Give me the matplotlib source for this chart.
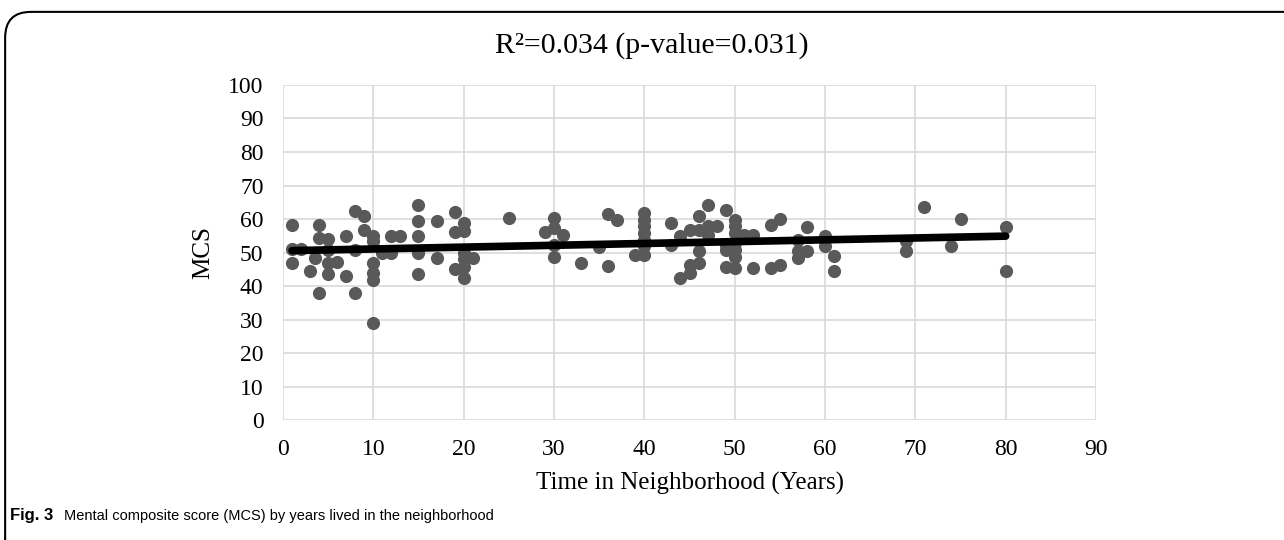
import numpy as np
import matplotlib
matplotlib.use("Agg")
import matplotlib.pyplot as plt
from matplotlib.patches import FancyBboxPatch

# years lived in the neighbourhood and MCS
years = [1, 1, 1, 2, 3, 3.5, 4, 4, 4, 5, 5, 5, 5, 6, 7, 7, 8, 8, 8, 9, 9,
         10, 10, 10, 10, 10, 10, 11, 12, 12, 13, 15, 15, 15, 15, 15, 17, 17,
         19, 19, 19, 20, 20, 20, 20, 20, 20, 21, 25, 29, 30, 30, 30, 30, 31,
         33, 35, 36, 36, 37, 39, 40, 40, 40, 40, 40, 40, 40, 43, 43, 44, 44,
         45, 45, 45, 46, 46, 46, 46, 47, 47, 47, 48, 49, 49, 49, 49,
         50, 50, 50, 50, 50, 50, 50, 51, 52, 52, 54, 54, 55, 55, 57, 57, 57,
         58, 58, 60, 60, 61, 61, 69, 69, 71, 74, 75, 80, 80]
mcs = [58.3, 51.0, 46.8, 51.0, 44.6, 48.3, 58.3, 54.3, 38.0, 54.0, 50.8, 46.8,
       43.6, 47.3, 55.0, 43.0, 62.3, 50.8, 38.0, 60.8, 56.8,
       54.8, 53.3, 46.8, 43.8, 41.8, 29.1, 49.8, 55.0, 49.8, 54.8,
       64.3, 59.3, 54.8, 49.8, 43.6, 59.3, 48.3,
       62.0, 56.1, 45.0, 58.8, 56.3, 49.8, 48.0, 45.8, 42.3, 48.3, 60.3, 56.1,
       60.3, 57.3, 52.3, 48.6, 55.3,
       46.8, 51.6, 61.5, 46.0, 59.6, 49.3, 61.8, 59.8, 57.8, 55.8, 53.8, 51.8,
       49.3, 58.8, 52.3, 54.8, 42.3,
       56.8, 46.3, 43.8, 60.8, 56.8, 50.3, 46.8, 64.3, 57.8, 55.3, 57.8,
       62.8, 52.3, 50.8, 45.8,
       59.8, 57.8, 55.8, 52.8, 50.8, 48.8, 45.3, 55.3, 55.3, 45.3, 58.3, 45.3,
       60.0, 46.3, 53.8, 50.3, 48.3,
       57.5, 50.3, 54.8, 51.8, 49.0, 44.5, 53.3, 50.5, 63.5, 52.0, 60.1,
       57.6, 44.6]

x_ticks = list(range(0, 100, 10))
y_ticks = list(range(0, 110, 10))

serif = "Liberation Serif"
sans = "Liberation Sans"

fig = plt.figure(figsize=(12.84, 5.4), dpi=100)
ax = fig.add_axes([0.2204, 0.2222, 0.6332, 0.6204])

ax.scatter(years, mcs, s=90, color="#595959", zorder=3, linewidths=0)

# linear trend line
slope, intercept = np.polyfit(years, mcs, 1)
xs = np.array([min(years), max(years)])
ax.plot(xs, intercept + slope * xs, color="black", lw=5.5,
        solid_capstyle="round", zorder=4)

ax.set_xlim(0, 90)
ax.set_ylim(0, 100)
ax.set_xticks(x_ticks)
ax.set_yticks(y_ticks)
ax.grid(True, color="#d9d9d9", lw=1.2, zorder=0)
ax.set_axisbelow(True)
for s in ax.spines.values():
    s.set_visible(False)
ax.tick_params(length=0, labelsize=17, pad=14)
for lab in ax.get_xticklabels() + ax.get_yticklabels():
    lab.set_fontfamily(serif)

ax.set_xlabel("Time in Neighborhood (Years)", fontsize=18, family=serif, labelpad=8)
ax.set_ylabel("MCS", fontsize=18, family=serif, labelpad=10)

fig.text(0.508, 0.915, "R²=0.034 (p-value=0.031)", ha="center", va="center",
         fontsize=21.5, family=serif)

# caption under the chart
fig.text(0.008, 0.045, "Fig. 3", ha="left", va="center", fontsize=12,
         family=sans, weight="bold")
fig.text(0.05, 0.045, "Mental composite score (MCS) by years lived in the neighborhood",
         ha="left", va="center", fontsize=10.5, family=sans)

# rounded frame around the whole figure
frame = FancyBboxPatch((0.004, -0.05), 1.05, 1.028,
                       boxstyle="round,pad=0,rounding_size=0.02",
                       transform=fig.transFigure, fill=False,
                       edgecolor="black", lw=1.5, mutation_aspect=2.4)
fig.patches.append(frame)

fig.savefig("out.png", dpi=100)
